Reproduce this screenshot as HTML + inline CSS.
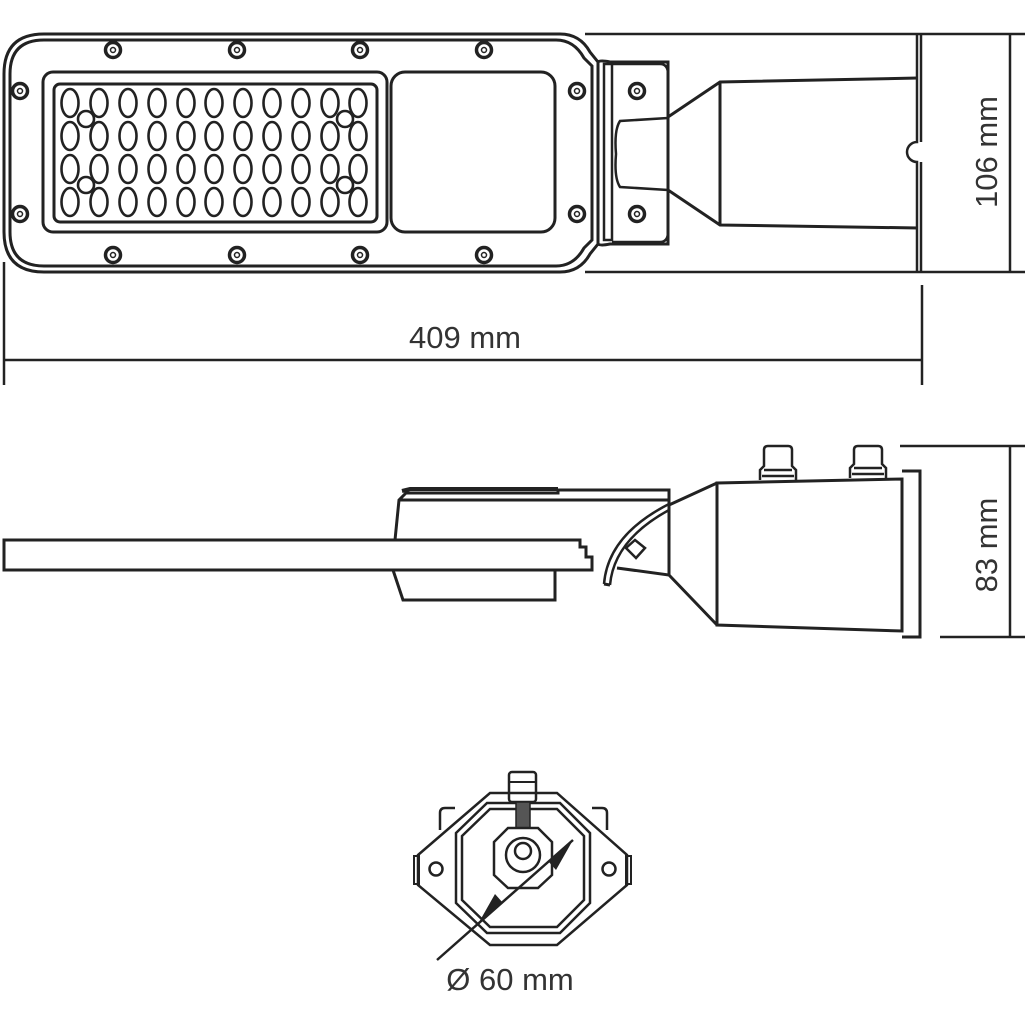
<!DOCTYPE html>
<html><head><meta charset="utf-8"><style>
html,body{margin:0;padding:0;background:#fff;}
svg{display:block}
text{font-family:"Liberation Sans",sans-serif;fill:#333;}
</style></head><body>
<svg width="1028" height="1028" viewBox="0 0 1028 1028" xmlns="http://www.w3.org/2000/svg">
<g fill="none" stroke="#222" stroke-width="3">
<!-- TOP VIEW -->
<path d="M44 34 H560 Q580 34 590 52 L598 62 V244 L590 254 Q580 272 560 272 H44 Q4 272 4 232 V74 Q4 34 44 34 Z"/>
<path d="M44 40 H556 Q574 40 584 58 L592 66 V240 L584 248 Q574 266 556 266 H44 Q10 266 10 232 V74 Q10 40 44 40 Z"/>
<rect x="43" y="72" width="344" height="160" rx="10"/>
<rect x="54" y="84" width="323" height="138" rx="6"/>
<rect x="391" y="72" width="164" height="160" rx="14"/>
<g stroke-width="2.6">
<g id="col">
<ellipse cx="70" cy="103" rx="8.5" ry="14"/><ellipse cx="70" cy="136" rx="8.5" ry="14"/>
<ellipse cx="70" cy="169" rx="8.5" ry="14"/><ellipse cx="70" cy="202" rx="8.5" ry="14"/>
</g>
<use href="#col" x="29"/><use href="#col" x="58"/><use href="#col" x="87"/><use href="#col" x="116"/>
<use href="#col" x="144"/><use href="#col" x="173"/><use href="#col" x="202"/><use href="#col" x="231"/>
<use href="#col" x="260"/><use href="#col" x="288"/>
</g>
<g fill="#fff" stroke-width="2.6">
<circle cx="86" cy="119" r="8"/><circle cx="345" cy="119" r="8"/>
<circle cx="86" cy="185" r="8"/><circle cx="345" cy="185" r="8"/>
</g>
<g id="scr" stroke-width="2.5"><circle cx="113" cy="50" r="7.5" stroke-width="3.5"/><circle cx="113" cy="50" r="2.5" stroke-width="1.5"/></g>
<use href="#scr" x="124"/><use href="#scr" x="247"/><use href="#scr" x="371"/>
<use href="#scr" y="205"/><use href="#scr" x="124" y="205"/><use href="#scr" x="247" y="205"/><use href="#scr" x="371" y="205"/>
<use href="#scr" x="-93" y="41"/><use href="#scr" x="-93" y="164"/>
<use href="#scr" x="464" y="41"/><use href="#scr" x="464" y="164"/>
<use href="#scr" x="524" y="41"/><use href="#scr" x="524" y="164"/>
<!-- bracket -->
<path d="M598 62 Q600 60 610 62 H668 V244 H610 Q600 246 598 244"/>
<path d="M604 64 H612 V240 H604 Z" stroke-width="2.5"/>
<path d="M612 64 H660 Q668 64 668 74 V232 Q668 242 660 242 H612" stroke-width="2.5"/>
<path d="M668 118 L620 121 Q614 130 616 154 Q614 178 620 187 L668 190" stroke-width="2.5"/>
<path d="M668 117 L720 82 L918 78 M668 190 L720 225 L918 228 M720 82 V225"/>
<path d="M917 34 V142 A9 9 0 0 0 917 162 V272 M921 34 V142 M921 162 V272" stroke-width="2.5"/>
<!-- top dims -->
<path d="M585 34 H1025 M585 272 H1025 M1010 34 V272" stroke-width="2.5"/>
<path d="M4 262 V385 M922 285 V385 M4 360 H922" stroke-width="2.5"/>

<!-- SIDE VIEW -->
<path d="M4 540 H580 V547 H586 V557 H592 V570 H4 Z" stroke-width="3"/>
<path d="M395 540 L399 500 L406 493 H558 V490 H669 V500 L669 505"/>
<path d="M402 491 L410 489 H558" stroke-width="4"/>
<path d="M399 500 H669"/>
<path d="M393 570 L403 600 H555 V570"/>
<path d="M604 584 Q608 535 669 504 M610 585 Q614 540 669 510" stroke-width="2.5"/>
<path d="M604 584 L610 585"/>
<path d="M626 548 L635 540 L645 548 L636 558 Z" stroke-width="2.5"/>
<path d="M617 568 L669 575 L717 625 M669 505 L717 483 M669 505 V575"/>
<path d="M717 483 L902 479 V631 L717 625 Z"/>
<path d="M902 471 H920 V637 H902" stroke-width="3"/>
<path d="M760 480 V470 L764 466 V450 Q764 446 768 446 H788 Q792 446 792 450 V466 L796 470 V480" stroke-width="2.5"/>
<path d="M764 470 H792 M762 476 H794" stroke-width="2.5"/>
<path d="M850 478 V468 L854 464 V450 Q854 446 858 446 H878 Q882 446 882 450 V464 L886 468 V478" stroke-width="2.5"/>
<path d="M854 468 H882 M852 474 H884" stroke-width="2.5"/>
<path d="M900 446 H1025 M940 637 H1025 M1010 446 V637" stroke-width="2.5"/>

<!-- BOTTOM VIEW -->
<path d="M455 808 H445 Q440 808 440 813 V830 M592 808 H602 Q607 808 607 813 V830" stroke-width="2.5"/>
<path d="M490 793 H557 L627 855 V885 L557 945 H490 L418 885 V855 Z" stroke-width="2.5"/>
<rect x="414" y="856" width="5" height="28" stroke-width="2"/>
<rect x="626" y="856" width="5" height="28" stroke-width="2"/>
<path d="M487 803 H560 L590 833 V903 L560 933 H487 L456 903 V833 Z" stroke-width="2.5" fill="#fff"/>
<path d="M490 809 H557 L584 836 V900 L557 927 H490 L462 900 V836 Z" stroke-width="2.5"/>
<rect x="509" y="772" width="27" height="30" rx="3" stroke-width="2.5"/>
<path d="M509 782 H536" stroke-width="2"/>
<rect x="516" y="802" width="14" height="26" fill="#555" stroke-width="1.5"/>
<path d="M508 828 H538 L552 842 V875 L538 888 H508 L494 875 V842 Z" stroke-width="2.5"/>
<circle cx="523" cy="855" r="17" stroke-width="2.5"/>
<circle cx="523" cy="851" r="8" stroke-width="2.5"/>
<circle cx="436" cy="869" r="6.5" stroke-width="2.5"/>
<circle cx="609" cy="869" r="6.5" stroke-width="2.5"/>
<path d="M437 960 L573 840" stroke-width="2.5"/>
</g>
<path d="M573 840 L556 870 L548 861 Z" fill="#222"/>
<path d="M478 924 L495 894 L503 903 Z" fill="#222"/>
<!-- labels -->
<text x="465" y="348" font-size="31" text-anchor="middle">409 mm</text>
<text transform="translate(997 152) rotate(-90)" font-size="31" text-anchor="middle">106 mm</text>
<text transform="translate(997 545) rotate(-90)" font-size="31" text-anchor="middle">83 mm</text>
<text x="510" y="990" font-size="31" text-anchor="middle">Ø 60 mm</text>
</svg>
</body></html>
